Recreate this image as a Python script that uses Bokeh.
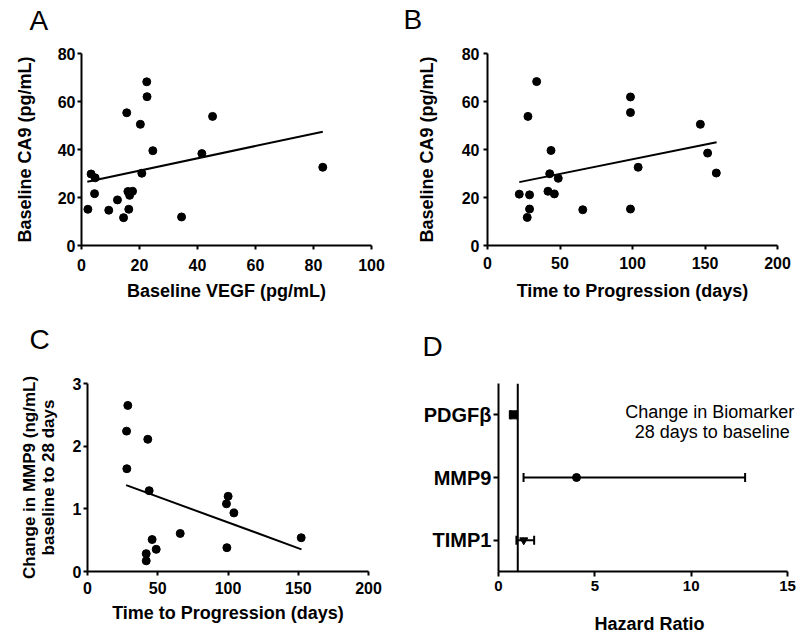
from bokeh.plotting import figure
from bokeh.layouts import column, row
from bokeh.models import (Range1d, FactorRange, FixedTicker, Label, Span, Title,
                          Whisker, ColumnDataSource, TeeHead)
from bokeh.embed import file_html
from bokeh.resources import INLINE

# ---------------- data ----------------
# Panel A: Baseline VEGF vs baseline CA9
vegf_a = [2.2, 3.3, 4.7, 4.5, 9.4, 12.4, 14.5, 15.6, 16.0, 16.6, 16.3, 17.6,
          20.3, 20.8, 22.5, 22.6, 24.6, 34.5, 41.5, 45.2, 83.2]
ca9_a = [15.1, 29.8, 28.2, 21.6, 14.7, 19.0, 11.6, 55.3, 22.5, 20.9, 15.1, 22.6,
         50.5, 30.1, 68.2, 62.0, 39.5, 11.9, 38.3, 53.8, 32.6]
fit_a_x = [2.0, 83.2]
fit_a_y = [26.6, 47.4]
a_xticks = [0, 20, 40, 60, 80, 100]
a_yticks = [0, 20, 40, 60, 80]

# Panel B: time to progression vs baseline CA9
ttp_b = [21.9, 27.9, 27.4, 29.0, 29.0, 33.9, 41.7, 42.9, 43.8, 46.1, 48.8, 65.7,
         98.6, 98.6, 98.6, 103.9, 146.8, 151.8, 157.8]
ca9_b = [21.4, 53.8, 11.7, 15.2, 21.1, 68.3, 22.6, 29.9, 39.6, 21.5, 28.0, 14.9,
         61.9, 55.4, 15.2, 32.6, 50.5, 38.5, 30.2]
fit_b_x = [21.9, 158.0]
fit_b_y = [26.4, 43.0]
b_xticks = [0, 50, 100, 150, 200]
b_yticks = [0, 20, 40, 60, 80]

# Panel C: time to progression vs change in MMP9
ttp_c = [28.0, 27.8, 28.7, 42.9, 43.9, 41.8, 41.8, 46.0, 48.9, 66.0, 99.2, 98.9,
         100.1, 104.2, 152.1]
mmp9_c = [1.64, 2.24, 2.65, 2.11, 1.29, 0.285, 0.17, 0.51, 0.354, 0.607, 0.38,
          1.08, 1.20, 0.935, 0.539]
fit_c_x = [27.5, 152.3]
fit_c_y = [1.378, 0.354]
c_xticks = [0, 50, 100, 150, 200]
c_yticks = [0, 1, 2, 3]

# Panel D: hazard ratios (change in biomarker, 28 days to baseline)
biomarkers = ["TIMP1", "MMP9", "PDGF\u03b2"]
hr = [1.31, 4.05, 0.77]
hr_lo = [0.93, 1.30, 0.62]
hr_hi = [1.85, 12.8, 0.97]
d_xticks = [0, 5, 10, 15]
hr_ref = 1

# ---------------- styling ----------------
FONT = "Liberation Sans"


def make_fig(W, H, L, R, T, B, x_range, y_range):
    p = figure(width=W, height=H, x_range=x_range, y_range=y_range,
               output_backend="svg", toolbar_location=None, title=None,
               min_border_left=L, min_border_right=R,
               min_border_top=T, min_border_bottom=B)
    p.grid.visible = False
    p.outline_line_color = None
    p.background_fill_color = "white"
    p.border_fill_color = "white"
    for ax in p.axis:
        ax.axis_line_width = 2
        ax.axis_line_color = "black"
        ax.major_tick_line_width = 2
        ax.major_tick_line_color = "black"
        ax.major_tick_out = 4
        ax.major_tick_in = 0
        ax.minor_tick_out = 0
        ax.minor_tick_in = 0
        ax.major_label_text_font = FONT
        ax.major_label_text_font_style = "bold"
        ax.major_label_text_font_size = "16px"
        ax.major_label_text_color = "black"
        ax.axis_label_text_font = FONT
        ax.axis_label_text_font_style = "bold"
        ax.axis_label_text_font_size = "18px"
        ax.axis_label_text_color = "black"
    return p


def letter(p, txt, gap, offset):
    # white (invisible) spacer next to the frame, then the panel letter above it
    p.add_layout(Title(text=".", text_font_size="1px", text_color="white",
                       standoff=gap), "above")
    p.add_layout(Title(text=txt, text_font=FONT, text_font_size="28px",
                       text_font_style="normal", text_color="black",
                       align="left", offset=offset, standoff=0), "above")


def scatter_panel(g, xs, ys, fx, fy, xticks, yticks, xlabel, ylabel,
                  x_ls, x_as, y_ls, y_as):
    W, H, L, R, T, B, x0, x1, y0, y1 = g
    p = make_fig(W, H, L, R, T, B, Range1d(x0, x1), Range1d(y0, y1))
    p.xaxis.ticker = FixedTicker(ticks=xticks)
    p.yaxis.ticker = FixedTicker(ticks=yticks)
    p.xaxis.axis_label = xlabel
    p.yaxis.axis_label = ylabel
    p.xaxis.major_label_standoff = x_ls
    p.xaxis.axis_label_standoff = x_as
    p.yaxis.major_label_standoff = y_ls
    p.yaxis.axis_label_standoff = y_as
    p.line(fx, fy, line_color="black", line_width=2)
    p.scatter(xs, ys, size=8, marker="circle", fill_color="black", line_color="black")
    return p


# geometry: width, height, border left/right/top/bottom, x range, y range
gA = (400, 310, 81, 29, 53, 65, 0, 100, 0, 80)
gB = (403, 310, 87, 26, 53, 64, 0, 200, 0, 80)
gC = (400, 327, 87, 32, 72, 66, 0, 200, 0, 3)

pA = scatter_panel(gA, vegf_a, ca9_a, fit_a_x, fit_a_y, a_xticks, a_yticks,
                   "Baseline VEGF (pg/mL)", "Baseline CA9 (pg/mL)", 9, 7, 2, 20)
letter(pA, "A", 15.2, -52)

pB = scatter_panel(gB, ttp_b, ca9_b, fit_b_x, fit_b_y, b_xticks, b_yticks,
                   "Time to Progression (days)", "Baseline CA9 (pg/mL)", 7, 9, 4, 22)
letter(pB, "B", 15.5, -84)

pC = scatter_panel(gC, ttp_c, mmp9_c, fit_c_x, fit_c_y, c_xticks, c_yticks,
                   "Time to Progression (days)",
                   "Change in MMP9 (ng/mL)\nbaseline to 28 days", 6, 6, 2, 12)
pC.yaxis.axis_label_text_font_size = "17px"
pC.yaxis.axis_label_text_line_height = 1.0
letter(pC, "C", 26, -58)

# Panel D (frame extends a little right of 15 so the note is not clipped)
WD, HD, LD, RD, TD, BD = 403, 327, 98, 3, 73, 61
px_per_hr = 289 / 15.0
d_xend = (WD - LD - RD) / px_per_hr
pD = make_fig(WD, HD, LD, RD, TD, BD, Range1d(0, d_xend), FactorRange(*biomarkers))
pD.xaxis.ticker = FixedTicker(ticks=d_xticks)
pD.xaxis.bounds = (d_xticks[0], d_xticks[-1])
pD.xaxis.axis_label = "Hazard Ratio"
pD.xaxis.major_label_text_font_size = "15px"
pD.xaxis.major_label_standoff = 4
pD.xaxis.major_tick_out = 5
pD.xaxis.axis_label_standoff = 20
pD.yaxis.major_label_text_font_size = "20px"
pD.yaxis.major_tick_out = 5
pD.yaxis.major_label_standoff = 2

pD.add_layout(Span(location=hr_ref, dimension="height", line_color="black", line_width=2))

src = ColumnDataSource(dict(y=biomarkers, hr=hr, lo=hr_lo, hi=hr_hi,
                            m=["inverted_triangle", "circle", "square"]))
pD.add_layout(Whisker(base="y", lower="lo", upper="hi", dimension="width", source=src,
                      line_color="black", line_width=2,
                      upper_head=TeeHead(size=9, line_width=2, line_color="black"),
                      lower_head=TeeHead(size=9, line_width=2, line_color="black")))
pD.scatter(x="hr", y="y", marker="m", size=8, source=src,
           fill_color="black", line_color="black")

frame_h = HD - TD - BD
for fy, txt in [(102, "Change in  Biomarker"), (123, "28 days to baseline")]:
    x = (311.7 - LD) / px_per_hr
    y = len(biomarkers) - (fy - TD) / frame_h * len(biomarkers)
    pD.add_layout(Label(x=x, y=y, text=txt, text_font=FONT, text_font_size="18px",
                        text_align="center", text_baseline="alphabetic",
                        text_color="black"))
letter(pD, "D", 19.2, -76)

layout = column(row(pA, pB), row(pC, pD))
open("out.html", "w").write(file_html(layout, INLINE))
